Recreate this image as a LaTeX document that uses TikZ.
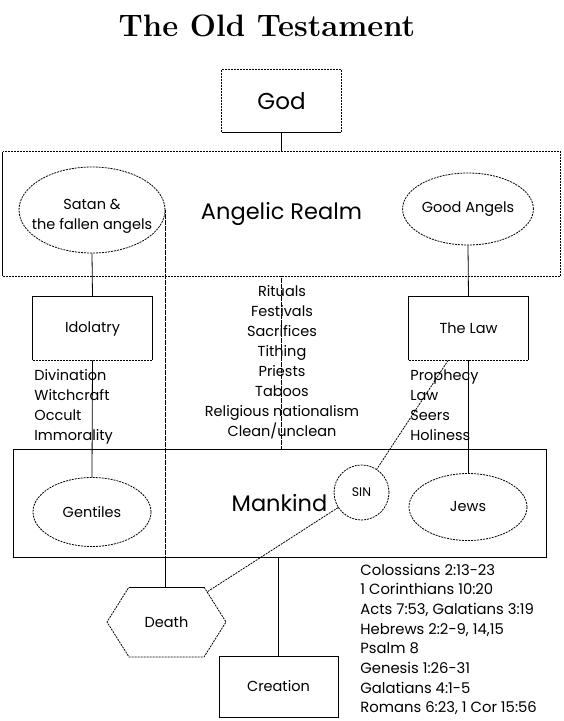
\documentclass[tikz,border=0pt]{standalone}
\usepackage{fontspec}
\newfontfamily\pop{Poppins}
\usetikzlibrary{calc,shapes.geometric}
\begin{document}
\begin{tikzpicture}[x=1pt,y=-1pt,
  dsh/.style={dash pattern=on 2pt off 1pt},
  dotl/.style={dash pattern=on 0.6pt off 0.6pt},
  txt/.style={font=\pop\fontsize{14.5}{20}\selectfont, inner sep=0pt},
  reft/.style={font=\pop\fontsize{14.8}{20}\selectfont, inner sep=0pt},
  big/.style={font=\pop\fontsize{22.5}{26}\selectfont, inner sep=0pt},
  boxn/.style={inner sep=0pt, minimum width=119pt, minimum height=62pt},
  ell/.style={ellipse, draw, dsh, inner sep=0pt},
  line width=0.8pt]
\useasboundingbox (0,0) rectangle (564,721);
\fill[white] (0,0) rectangle (564,721);

% title
\node[inner sep=0pt, anchor=base, font=\bfseries\fontsize{31}{34}\selectfont] (title) at (267,36) {The Old Testament};

% God
\node[boxn, font=\pop\fontsize{23}{26}\selectfont] (god) at (281.5,101) {God};
\draw[dsh] (god.south west) -- (god.north west) -- (god.north east) -- (god.south east);
\draw (god.south west) -- (god.south east);

% Angelic realm
\node[big, minimum width=557pt, minimum height=124pt] (angelic) at (281.5,214) {Angelic Realm};
\draw[dsh] (angelic.south west) -- (angelic.south east) -- (angelic.north east) -- (angelic.north west);
\draw (angelic.north west) -- (angelic.south west);

\node[ell, minimum width=146pt, minimum height=86pt] (satan) at (92,210) {};
\node[txt, align=center] (satantxt) at (92,216) {Satan \&\\the fallen angels};
\node[ell, minimum width=120pt, minimum height=72pt, txt] (good) at (468,209) {Good Angels};

% Idolatry and Law
\node[boxn, txt, minimum height=63pt] (idol) at (92.5,328.5) {Idolatry};
\draw (idol.south west) -- (idol.north west) -- (idol.north east) -- (idol.south east);
\draw[dsh] (idol.south west) -- (idol.south east);
\node[boxn, txt, minimum height=63pt] (law) at (468.5,328.5) {The Law};
\draw (law.south west) -- (law.north west) -- (law.north east) -- (law.south east);
\draw[dsh] (law.south west) -- (law.south east);

% Mankind
\node[big, draw, minimum width=533pt, minimum height=108pt] (mankind) at (279.5,503) {Mankind};
\node[ell, minimum width=118pt, minimum height=69pt, txt] (gent) at (92,512) {Gentiles};
\node[ell, minimum width=118pt, minimum height=67pt, txt] (jews) at (468,507) {Jews};
\node[circle, draw, dsh, minimum size=55pt, inner sep=0pt, font=\pop\fontsize{12.5}{14}\selectfont] (sin) at (361.5,492.5) {SIN};

% Death
\node[txt, minimum width=119pt, minimum height=70pt] (death) at (166.5,622) {Death};
\coordinate (d1) at ($(death.center)+(-37.5,-35)$);
\coordinate (d2) at ($(death.center)+(37.5,-35)$);
\coordinate (d3) at ($(death.center)+(59.5,0)$);
\coordinate (d4) at ($(death.center)+(37.5,35)$);
\coordinate (d5) at ($(death.center)+(-37.5,35)$);
\coordinate (d6) at ($(death.center)+(-59.5,0)$);
\draw (d1) -- (d2);
\draw[dsh] (d2) -- (d3) -- (d4) -- (d5) -- (d6) -- (d1);
\coordinate (dne) at ($(d2)!0.14!(d3)$);

% Creation
\node[boxn, txt, draw, minimum height=61pt] (creation) at (278.5,686.5) {Creation};

% connectors
\draw (god.south) -- (god.south |- angelic.north);
\draw (satan.south) -- (idol.north);
\draw (good.south) -- (law.north);
\draw (idol.south) -- (gent.north);
\draw (law.south) -- (law.south |- jews.north);
\draw[dotl] (angelic.south) -- (angelic.south |- mankind.north);
\draw[dotl] (satan.east) -- (satan.east |- mankind.south);
\draw (satan.east |- mankind.south) -- (satan.east |- death.north);
\draw (creation.north |- mankind.south) -- (creation.north);
\coordinate (lawout) at ($(law.south west)!0.33!(law.south east)$);
\draw[dsh] (lawout) -- (sin);
\draw[dsh] (sin) -- (dne);

% lists
\foreach \t [count=\i] in {Divination,Witchcraft,Occult,Immorality}
  \node[txt, anchor=base west] (idl\i) at (34,360+20*\i) {\t};
\foreach \t [count=\i] in {Prophecy,Law,Seers,Holiness}
  \node[txt, anchor=base west] (lwl\i) at (410,360+20*\i) {\t};
\foreach \t [count=\i] in {Rituals,Festivals,Sacrifices,Tithing,Priests,Taboos,Religious nationalism,Clean/unclean}
  \node[txt, anchor=base] (cl\i) at (282,277+19.9*\i) {\t};
\foreach \t [count=\i] in {Colossians 2:13-23,1 Corinthians 10:20,{Acts 7:53, Galatians 3:19},{Hebrews 2:2-9, 14,15},Psalm 8,Genesis 1:26-31,Galatians 4:1-5,{Romans 6:23, 1 Cor 15:56}}
  \node[reft, anchor=base west] (ref\i) at (360,555.3+19.7*\i) {\t};
\end{tikzpicture}
\end{document}
